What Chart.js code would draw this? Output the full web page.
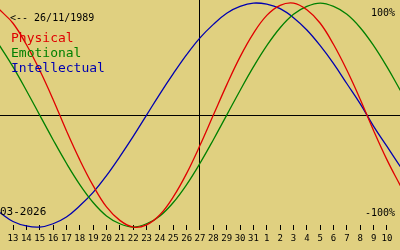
<!DOCTYPE html>
<html>
<head>
<meta charset="utf-8">
<script src="https://cdn.jsdelivr.net/npm/chart.js@4/dist/chart.umd.min.js"></script>
<style>
html,body{margin:0;padding:0;background:#E0D080;overflow:hidden;}
#wrap{width:400px;height:250px;position:relative;}
canvas{display:block;}
</style>
</head>
<body>
<div id="wrap"><canvas id="c" width="400" height="250"></canvas></div>
<script>
// Days shown along the axis (first and last entries are only partly visible at the edges)
const days = [12,13,14,15,16,17,18,19,20,21,22,23,24,25,26,27,28,29,30,31,1,2,3,4,5,6,7,8,9,10,11];
// Biorhythm values (-1 .. 1), one per day
const physical     = [0.94,0.82,0.63,0.40,0.14,-0.14,-0.40,-0.63,-0.82,-0.94,-1.00,-0.98,-0.89,-0.73,-0.52,-0.27,0.00,0.27,0.52,0.73,0.89,0.98,1.00,0.94,0.82,0.63,0.40,0.14,-0.14,-0.40,-0.63];
const emotional    = [0.62,0.43,0.22,0.00,-0.22,-0.43,-0.62,-0.78,-0.90,-0.97,-1.00,-0.97,-0.90,-0.78,-0.62,-0.43,-0.22,0.00,0.22,0.43,0.62,0.78,0.90,0.97,1.00,0.97,0.90,0.78,0.62,0.43,0.22];
const intellectual = [-0.87,-0.95,-0.99,-1.00,-0.97,-0.91,-0.81,-0.69,-0.54,-0.37,-0.19,0.00,0.19,0.37,0.54,0.69,0.81,0.91,0.97,1.00,0.99,0.95,0.87,0.76,0.62,0.46,0.28,0.10,-0.10,-0.28,-0.46];
const seriesNames = ['Physical','Emotional','Intellectual'];
const birthText = '<-- 26/11/1989';
const monthText = '03-2026';
const topText = '100%';
const bottomText = '-100%';
const todayDay = 27;

const RED = '#E00000', GREEN = '#008000', BLUE = '#0000B0', BG = '#E0D080';
const todayIndex = days.indexOf(todayDay);
const firstTick = 1, lastTick = days.length - 2;

const textPlugin = {
  id: 'texts',
  beforeDraw(chart) {
    const c = chart.ctx;
    c.save();
    c.fillStyle = BG;
    c.fillRect(0, 0, chart.width, chart.height);
    c.restore();
  },
  afterDatasetsDraw(chart) {
    const c = chart.ctx;
    c.save();
    c.textBaseline = 'alphabetic';
    c.textAlign = 'left';
    c.fillStyle = '#000';
    c.font = '10px "DejaVu Sans Mono"';
    c.fillText(birthText, 10, 21);
    c.font = '11px "DejaVu Sans Mono"';
    c.fillText(monthText, 0, 215);
    c.font = '10px "DejaVu Sans Mono"';
    c.textAlign = 'right';
    c.fillText(topText, 395, 16);
    c.fillText(bottomText, 395, 216);
    c.textAlign = 'left';
    c.font = '13px "DejaVu Sans Mono"';
    const cols = [RED, GREEN, BLUE];
    seriesNames.forEach((n, k) => {
      c.fillStyle = cols[k];
      c.fillText(n, 11, 42 + k * 15);
    });
    c.restore();
  }
};

const toPts = arr => arr.map((v, i) => ({x: i, y: v}));

new Chart(document.getElementById('c'), {
  type: 'line',
  data: {
    datasets: [
      {label: seriesNames[0], data: toPts(physical), borderColor: RED},
      {label: seriesNames[1], data: toPts(emotional), borderColor: GREEN},
      {label: seriesNames[2], data: toPts(intellectual), borderColor: BLUE}
    ]
  },
  options: {
    responsive: false,
    animation: false,
    devicePixelRatio: 1,
    layout: {padding: 0},
    plugins: {legend: {display: false}, tooltip: {enabled: false}},
    elements: {
      point: {radius: 0},
      line: {borderWidth: 1.3, tension: 0.4, fill: false}
    },
    datasets: {line: {clip: false}},
    scales: {
      x: {
        type: 'linear',
        min: firstTick - 0.9733,
        max: lastTick + 0.9733,
        afterBuildTicks: s => {
          s.ticks = days.map((d, i) => ({value: i})).filter(t => t.value >= firstTick && t.value <= lastTick);
        },
        afterFit: s => { s.height = 25; },
        ticks: {
          autoSkip: false, maxRotation: 0, minRotation: 0, padding: 3,
          color: '#000',
          font: {family: 'DejaVu Sans Mono', size: 9},
          callback: v => days[v]
        },
        grid: {
          color: c => (c.tick && c.tick.value === todayIndex) ? '#000' : 'rgba(0,0,0,0)',
          tickColor: '#000',
          tickLength: 5,
          lineWidth: 1
        },
        border: {display: false}
      },
      y: {
        type: 'linear',
        min: -0.98125,
        max: 1.02768,
        afterFit: s => { s.width = 0; },
        afterBuildTicks: s => { s.ticks = [{value: 0}]; },
        ticks: {display: false},
        grid: {color: '#000', drawTicks: false, lineWidth: 1},
        border: {display: false}
      }
    }
  },
  plugins: [textPlugin]
});
</script>
</body>
</html>
